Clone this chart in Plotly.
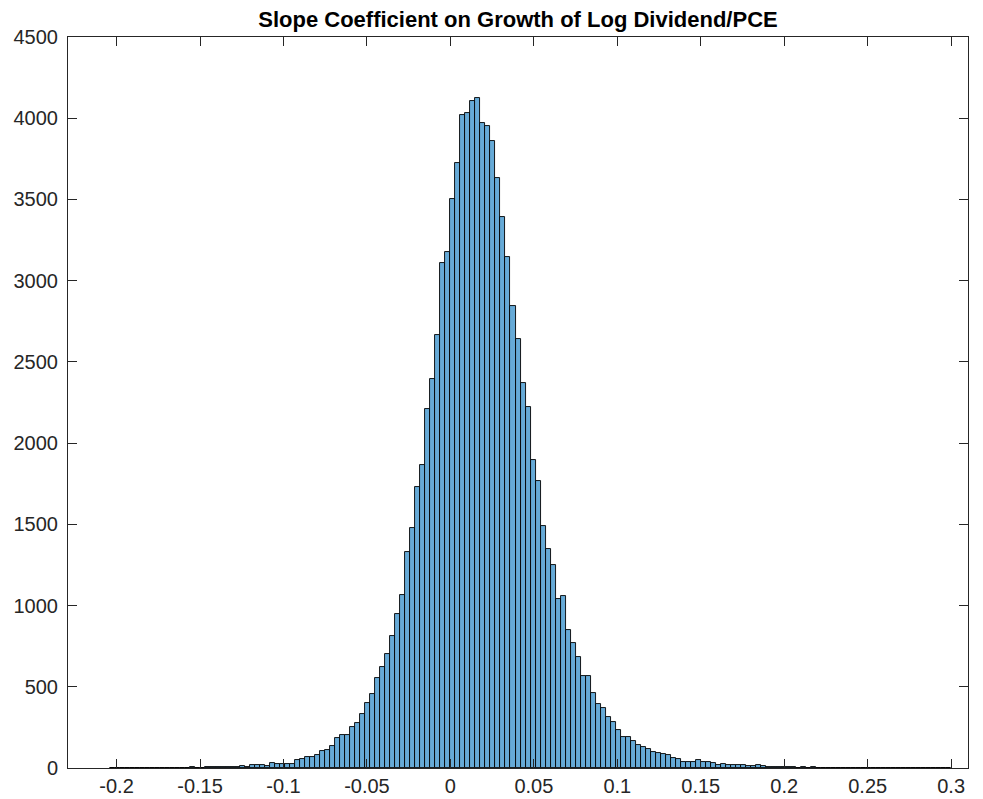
import plotly.graph_objects as go

# Histogram data (bin width 0.003, first bin starts at -0.204)
bin_start = -0.204
bin_width = 0.003
counts = [
    1, 0, 1, 1, 0, 1, 1, 1, 2, 1, 2, 2, 1, 3, 2, 3,          # -0.204 ...
    8, 3, 3, 4, 4, 6, 4, 5, 6, 6, 12, 8, 20, 20, 16, 14,
    31, 24, 27, 27, 27, 49, 53, 70, 68, 78, 107, 113, 135, 183, 201, 201,
    252, 277, 330, 398, 457, 556, 619, 700, 812, 948, 1065, 1327, 1477, 1727, 1863, 2213,
    2396, 2667, 3110, 3175, 3502, 3725, 4018, 4035, 4105, 4127, 3972, 3955, 3860, 3631, 3393, 3147,
    2847, 2638, 2367, 2224, 1897, 1764, 1487, 1350, 1247, 1040, 1056, 849, 767, 685, 568, 568,
    459, 392, 367, 314, 281, 234, 193, 193, 164, 144, 127, 117, 96, 94, 84, 78,
    62, 53, 39, 39, 35, 49, 35, 35, 33, 16, 23, 18, 18, 18, 18, 12,
    12, 16, 10, 8, 6, 5, 5, 4, 5, 3, 4, 3, 4, 3, 3, 2,
    3, 2, 2, 2, 1, 2, 1, 1, 2, 1, 1, 1, 1, 0, 1, 1,
    1, 0, 1, 1, 0, 1, 0, 1,
]

x_tick_vals = [-0.2, -0.15, -0.1, -0.05, 0, 0.05, 0.1, 0.15, 0.2, 0.25, 0.3]
x_tick_text = ["-0.2", "-0.15", "-0.1", "-0.05", "0", "0.05", "0.1", "0.15", "0.2", "0.25", "0.3"]
y_tick_vals = [0, 500, 1000, 1500, 2000, 2500, 3000, 3500, 4000, 4500]
y_tick_text = [str(v) for v in y_tick_vals]

title_text = "Slope Coefficient on Growth of Log Dividend/PCE"

centers = [bin_start + bin_width * (i + 0.5) for i in range(len(counts))]

fig = go.Figure()
fig.add_trace(go.Bar(
    x=centers,
    y=counts,
    width=bin_width,
    marker=dict(color="rgb(102,170,215)", line=dict(color="#000000", width=0.9)),
    hoverinfo="x+y",
))

axis_color = "#262626"
font_family = "Liberation Sans, Arial, sans-serif"

# page body has an 8px default margin, so the figure is 8px smaller
W, H = 975, 791
fig.update_layout(
    width=W,
    height=H,
    margin=dict(l=60, r=15, t=29, b=31),
    plot_bgcolor="white",
    paper_bgcolor="white",
    bargap=0,
    showlegend=False,
    font=dict(family=font_family, size=20, color=axis_color),
    title=dict(
        text="<b>" + title_text + "</b>",
        x=(60 + 960) / 2 / W,
        xanchor="center",
        xref="container",
        y=1 - 11 / H,
        yanchor="middle",
        yref="container",
        font=dict(family=font_family, size=22, color="#000000"),
    ),
)

common = dict(
    showgrid=False,
    zeroline=False,
    showline=True,
    linecolor=axis_color,
    linewidth=1,
    mirror="ticks",
    ticks="inside",
    ticklen=9,
    tickwidth=1,
    tickcolor=axis_color,
    tickfont=dict(size=20, color=axis_color),
    automargin=False,
)
fig.update_xaxes(range=[-0.2291, 0.3101], tickvals=x_tick_vals, ticktext=x_tick_text, **common)
fig.update_yaxes(range=[0, 4500], tickvals=y_tick_vals, ticktext=y_tick_text,
                 ticklabelstandoff=5, **common)

fig.write_html("out.html")
